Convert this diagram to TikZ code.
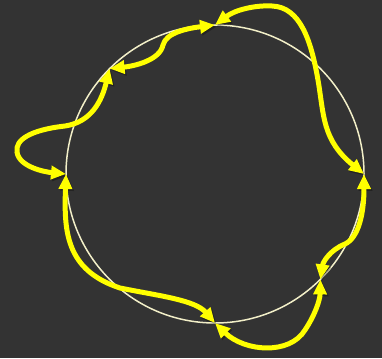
\documentclass[tikz,border=0pt]{standalone}
\usetikzlibrary{arrows.meta}
\definecolor{bg}{HTML}{333333}
\definecolor{ring}{HTML}{F2EFC8}
\definecolor{yl}{HTML}{FFFF00}
\tikzset{
  link/.style={draw=yl, line width=5pt, line cap=round,
    {Triangle[length=15pt,width=13pt]}-{Triangle[length=15pt,width=13pt]},
    preaction={draw=black, opacity=0.3, transform canvas={shift={(1.5pt,-1.8pt)}}}},
  ringline/.style={draw=ring, line width=1.5pt}
}
\begin{document}
\begin{tikzpicture}[x=1pt,y=-1pt]
\useasboundingbox[fill=bg] (0,0) rectangle (382,358);
\coordinate (c) at (215,174);
\draw[ringline] (c) circle[radius=149];
\coordinate (p1) at (215,25);
\coordinate (p2) at (109.6,68.6);
\coordinate (p3) at (66,174);
\coordinate (p4) at (215,323);
\coordinate (p5) at (320.4,279.4);
\coordinate (p6) at (364,174);
% P1 -- P6
\draw[link] (p1) .. controls (235,10) and (255,5) .. (272,6)
  .. controls (300,7) and (311,40) .. (318,80)
  .. controls (324,115) and (322,140) .. (p6);
% P2 -- P1
\draw[link] (p2) .. controls (135,66) and (160,60) .. (163,45)
  .. controls (166,32) and (190,28) .. (p1);
% P2 -- P3
\draw[link] (p2) .. controls (102,100) and (92,122) .. (65,126)
  .. controls (30,130) and (15,140) .. (17,152)
  .. controls (19,167) and (45,172) .. (p3);
% P3 -- P4
\draw[link] (p3) .. controls (64,230) and (65,270) .. (120,288)
  .. controls (160,296) and (195,300) .. (p4);
% P4 -- P5
\draw[link] (p4) .. controls (245,352) and (290,355) .. (305,330)
  .. controls (315,315) and (320,300) .. (p5);
% P5 -- P6
\draw[link] (p5) .. controls (323,262) and (330,250) .. (345,244)
  .. controls (358,238) and (364,215) .. (p6);
\end{tikzpicture}
\end{document}
